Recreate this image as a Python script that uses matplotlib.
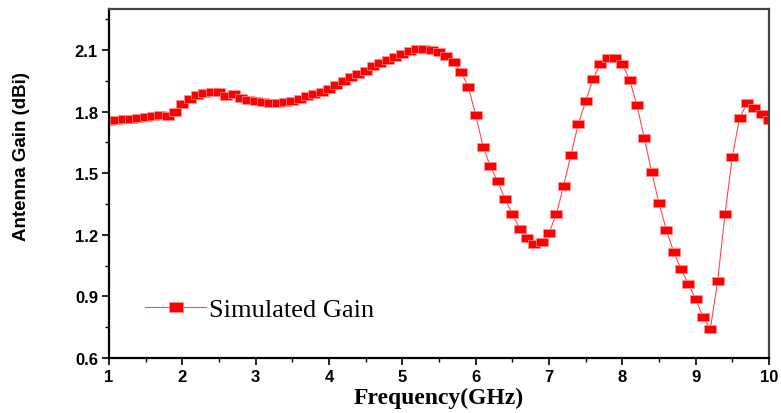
import numpy as np
import matplotlib.pyplot as plt
from matplotlib.ticker import MultipleLocator

# Frecuencia (GHz) y ganancia simulada (dBi), paso 0.1 GHz
freq = np.round(np.arange(1.0, 10.01, 0.1), 1)
gain = [
    1.755, 1.758, 1.762, 1.766, 1.770, 1.775, 1.780, 1.785, 1.778, 1.800,   # 1.0 - 1.9
    1.835, 1.860, 1.880, 1.893, 1.898, 1.898, 1.878, 1.885, 1.868, 1.858,   # 2.0 - 2.9
    1.850, 1.845, 1.842, 1.842, 1.845, 1.850, 1.860, 1.875, 1.885, 1.895,   # 3.0 - 3.9
    1.910, 1.930, 1.950, 1.970, 1.985, 2.000, 2.020, 2.035, 2.050, 2.065,   # 4.0 - 4.9
    2.080, 2.095, 2.105, 2.107, 2.100, 2.090, 2.070, 2.040, 1.995, 1.920,   # 5.0 - 5.9
    1.785, 1.630, 1.535, 1.460, 1.375, 1.300, 1.230, 1.185, 1.157, 1.165,   # 6.0 - 6.9
    1.210, 1.300, 1.440, 1.590, 1.740, 1.850, 1.960, 2.030, 2.060, 2.060,   # 7.0 - 7.9
    2.030, 1.955, 1.830, 1.670, 1.505, 1.355, 1.224, 1.117, 1.034, 0.960,   # 8.0 - 8.9
    0.888, 0.800, 0.740, 0.975, 1.300, 1.580, 1.770, 1.840, 1.820, 1.790,   # 9.0 - 9.9
    1.760,                                                                  # 10.0
]

xticks = [1, 2, 3, 4, 5, 6, 7, 8, 9, 10]
yticks = [0.6, 0.9, 1.2, 1.5, 1.8, 2.1]

# marcador rectangular (la imagen original esta estirada en horizontal)
rect = [(-1, -0.65), (1, -0.65), (1, 0.65), (-1, 0.65), (-1, -0.65)]

fig = plt.figure(figsize=(7.81, 4.14), dpi=100)
ax = fig.add_axes([0.1396, 0.1329, 0.845, 0.843])

ax.plot(freq, gain, color='#ff4a4a', lw=0.8, marker=rect, markersize=8,
        markerfacecolor='#ff0000', markeredgecolor='#ff9090', markeredgewidth=0.5,
        label='Simulated Gain')

ax.set_xlim(1, 10)
ax.set_ylim(0.6, 2.3)
ax.set_xticks(xticks)
ax.set_yticks(yticks)
ax.set_yticklabels([f'{v:.1f}' for v in yticks])
ax.xaxis.set_minor_locator(MultipleLocator(0.5))
ax.yaxis.set_minor_locator(MultipleLocator(0.15))
ax.tick_params(which='major', direction='out', length=5, width=1.2, pad=3)
ax.tick_params(which='minor', direction='out', length=3, width=1.0)
for lab in ax.get_xticklabels() + ax.get_yticklabels():
    lab.set_fontfamily('Liberation Sans')
    lab.set_fontweight('bold')
    lab.set_fontsize(12)

for side in ['left', 'bottom']:
    ax.spines[side].set_linewidth(1.6)
    ax.spines[side].set_color('black')
for side in ['top', 'right']:
    ax.spines[side].set_linewidth(1.6)
    ax.spines[side].set_color('#444444')

ax.set_xlabel('Frequency(GHz)', fontfamily='Liberation Serif', fontweight='bold',
              fontsize=17)
ax.xaxis.set_label_coords(0.5, -0.082)
ax.set_ylabel('Antenna Gain (dBi)', fontfamily='Liberation Sans', fontweight='bold',
              fontsize=13.5)
ax.yaxis.set_label_coords(-0.12, 0.58)

ax.legend(loc='center left', bbox_to_anchor=(0.055, 0.14), frameon=False,
          prop={'family': 'Liberation Serif', 'size': 19},
          handlelength=2.3, handletextpad=0.1, borderpad=0, borderaxespad=0,
          markerscale=1.3)

fig.savefig('out.png', dpi=100)
